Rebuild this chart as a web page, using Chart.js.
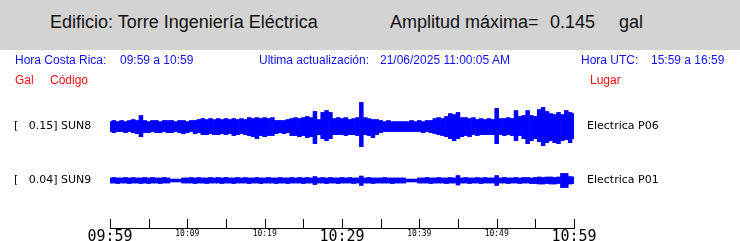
<!DOCTYPE html>
<html>
<head>
<meta charset="utf-8">
<script src="https://cdn.jsdelivr.net/npm/chart.js@4/dist/chart.umd.min.js"></script>
<style>
  html, body { margin: 0; padding: 0; background: #fff; overflow: hidden; width: 740px; height: 241px; }
  #wrap { position: relative; width: 740px; height: 241px; }
  #chart { position: absolute; left: 0; top: 0; }
  .head { position: absolute; left: 0; top: 0; width: 740px; height: 50px; background: #d3d3d3; }
  .t { position: absolute; white-space: pre; line-height: 1; }
  .big { font-family: "Liberation Sans", Arial, sans-serif; font-size: 18px; color: #111; }
  .info { font-family: "Liberation Sans", Arial, sans-serif; font-size: 12px; }
  .blue { color: #1010ff; }
  .red { color: #ff1010; }
  .sta { font-family: "DejaVu Sans", sans-serif; font-size: 11px; color: #000; }
</style>
</head>
<body>
<div id="wrap">
  <canvas id="chart" width="740" height="246"></canvas>
  <div class="head"></div>
  <div class="t big" style="left:50px;top:13px">Edificio: Torre Ingeniería Eléctrica</div>
  <div class="t big" style="left:390px;top:13px">Amplitud máxima=</div>
  <div class="t big" style="left:550px;top:13px">0.145</div>
  <div class="t big" style="left:619px;top:13px">gal</div>

  <div class="t info blue" style="left:15px;top:54px">Hora Costa Rica:</div>
  <div class="t info blue" style="left:120px;top:54px">09:59 a 10:59</div>
  <div class="t info blue" style="left:259px;top:54px">Ultima actualización:</div>
  <div class="t info blue" style="left:380px;top:54px">21/06/2025 11:00:05 AM</div>
  <div class="t info blue" style="left:581px;top:54px">Hora UTC:</div>
  <div class="t info blue" style="left:651px;top:54px">15:59 a 16:59</div>

  <div class="t info red" style="left:15px;top:74px">Gal</div>
  <div class="t info red" style="left:50px;top:74px">Código</div>
  <div class="t info red" style="left:590px;top:74px">Lugar</div>

  <div class="t sta" style="left:14px;top:120px">[   0.15] SUN8</div>
  <div class="t sta" style="left:587px;top:120px">Electrica P06</div>
  <div class="t sta" style="left:14px;top:174px">[   0.04] SUN9</div>
  <div class="t sta" style="left:587px;top:174px">Electrica P01</div>
</div>
<script>
// minutes after 09:59, sampled every half minute
const step = 0.5
const minutes = Array.from({length: 121}, (_, i) => i * step)

const tickLabels = ['09:59', '', '10:09', '', '10:19', '', '10:29', '', '10:39', '', '10:49', '', '10:59']
const majorLabels = ['09:59', '10:29', '10:59']

// SUN8 envelope (gal), max and min in each half minute
const sun8Max = [
  0.031, 0.038, 0.031, 0.038, 0.031, 0.038, 0.044, 0.038, 0.069, 0.038,
  0.031, 0.038, 0.038, 0.031, 0.038, 0.038, 0.038, 0.031, 0.038, 0.038,
  0.031, 0.038, 0.038, 0.044, 0.050, 0.044, 0.050, 0.044, 0.050, 0.044,
  0.050, 0.044, 0.050, 0.044, 0.050, 0.044, 0.056, 0.050, 0.056, 0.050,
  0.056, 0.050, 0.056, 0.038, 0.038, 0.038, 0.044, 0.050, 0.056, 0.050,
  0.056, 0.063, 0.056, 0.094, 0.044, 0.088, 0.100, 0.088, 0.050, 0.056,
  0.050, 0.056, 0.044, 0.050, 0.056, 0.150, 0.056, 0.050, 0.044, 0.044,
  0.038, 0.031, 0.038, 0.031, 0.031, 0.031, 0.031, 0.031, 0.038, 0.031,
  0.038, 0.031, 0.038, 0.038, 0.050, 0.056, 0.050, 0.063, 0.081, 0.075,
  0.088, 0.056, 0.056, 0.050, 0.056, 0.044, 0.050, 0.044, 0.050, 0.044,
  0.113, 0.050, 0.050, 0.056, 0.050, 0.100, 0.063, 0.069, 0.100, 0.069,
  0.063, 0.106, 0.119, 0.094, 0.081, 0.075, 0.088, 0.075, 0.100, 0.088,
  0.081
]
const sun8Min = [
  -0.031, -0.038, -0.031, -0.031, -0.038, -0.031, -0.038, -0.044, -0.063, -0.038,
  -0.038, -0.031, -0.038, -0.038, -0.031, -0.038, -0.038, -0.031, -0.038, -0.044,
  -0.038, -0.031, -0.044, -0.038, -0.050, -0.050, -0.044, -0.050, -0.050, -0.044,
  -0.050, -0.044, -0.056, -0.050, -0.044, -0.050, -0.056, -0.063, -0.075, -0.056,
  -0.063, -0.056, -0.056, -0.044, -0.038, -0.044, -0.038, -0.056, -0.056, -0.063,
  -0.056, -0.069, -0.063, -0.106, -0.050, -0.075, -0.088, -0.075, -0.050, -0.050,
  -0.050, -0.056, -0.050, -0.050, -0.056, -0.125, -0.050, -0.056, -0.069, -0.050,
  -0.038, -0.031, -0.031, -0.031, -0.031, -0.031, -0.031, -0.031, -0.031, -0.031,
  -0.031, -0.038, -0.031, -0.038, -0.044, -0.050, -0.056, -0.063, -0.075, -0.088,
  -0.075, -0.063, -0.056, -0.063, -0.050, -0.056, -0.050, -0.050, -0.050, -0.050,
  -0.106, -0.050, -0.056, -0.050, -0.056, -0.088, -0.056, -0.075, -0.106, -0.088,
  -0.075, -0.094, -0.119, -0.100, -0.088, -0.100, -0.106, -0.088, -0.081, -0.100,
  -0.075
]

// SUN9 envelope (gal)
const sun9Max = [
  0.016, 0.019, 0.016, 0.016, 0.019, 0.016, 0.019, 0.016, 0.016, 0.019,
  0.016, 0.019, 0.016, 0.016, 0.019, 0.016, 0.009, 0.009, 0.009, 0.016,
  0.016, 0.019, 0.016, 0.019, 0.016, 0.016, 0.019, 0.016, 0.019, 0.016,
  0.019, 0.016, 0.016, 0.019, 0.016, 0.019, 0.016, 0.016, 0.019, 0.016,
  0.016, 0.019, 0.016, 0.016, 0.019, 0.016, 0.016, 0.019, 0.016, 0.019,
  0.016, 0.019, 0.016, 0.025, 0.016, 0.019, 0.016, 0.019, 0.016, 0.016,
  0.019, 0.016, 0.019, 0.016, 0.016, 0.028, 0.016, 0.019, 0.016, 0.016,
  0.016, 0.019, 0.016, 0.016, 0.016, 0.016, 0.016, 0.009, 0.009, 0.009,
  0.016, 0.016, 0.019, 0.016, 0.016, 0.019, 0.016, 0.016, 0.019, 0.016,
  0.031, 0.016, 0.019, 0.016, 0.016, 0.019, 0.016, 0.019, 0.016, 0.016,
  0.031, 0.016, 0.019, 0.016, 0.016, 0.019, 0.016, 0.019, 0.019, 0.016,
  0.019, 0.022, 0.019, 0.022, 0.022, 0.019, 0.022, 0.044, 0.044, 0.025,
  0.022
]
const sun9Min = [
  -0.016, -0.016, -0.019, -0.016, -0.016, -0.019, -0.016, -0.016, -0.019, -0.016,
  -0.019, -0.016, -0.016, -0.019, -0.016, -0.016, -0.009, -0.009, -0.009, -0.016,
  -0.016, -0.016, -0.019, -0.016, -0.016, -0.019, -0.016, -0.016, -0.016, -0.019,
  -0.016, -0.016, -0.019, -0.016, -0.016, -0.016, -0.019, -0.016, -0.016, -0.019,
  -0.016, -0.016, -0.016, -0.019, -0.016, -0.016, -0.019, -0.016, -0.016, -0.016,
  -0.019, -0.016, -0.016, -0.025, -0.016, -0.016, -0.019, -0.016, -0.016, -0.019,
  -0.016, -0.016, -0.016, -0.019, -0.016, -0.031, -0.016, -0.016, -0.019, -0.016,
  -0.016, -0.016, -0.016, -0.019, -0.016, -0.016, -0.016, -0.009, -0.009, -0.009,
  -0.016, -0.016, -0.016, -0.019, -0.016, -0.016, -0.016, -0.019, -0.016, -0.016,
  -0.028, -0.016, -0.016, -0.019, -0.016, -0.016, -0.019, -0.016, -0.016, -0.016,
  -0.031, -0.016, -0.016, -0.019, -0.016, -0.016, -0.019, -0.016, -0.016, -0.019,
  -0.019, -0.022, -0.022, -0.019, -0.022, -0.022, -0.019, -0.044, -0.044, -0.022,
  -0.019
]

// baseline of each trace on the shared gal axis
const sun8Base = -0.19
const sun9Base = -0.525

function trace(base, lo, hi) {
  return minutes.map((t, i) => ({x: t, y: [base + lo[i], base + hi[i]]}))
}

// short tick marks pointing up into the plot, like the original
const innerTicks = {
  id: 'innerTicks',
  afterDraw(chart) {
    const sx = chart.scales.x
    const ctx = chart.ctx
    const bottom = chart.chartArea.bottom
    ctx.save()
    ctx.strokeStyle = '#000'
    ctx.lineWidth = 1
    sx.ticks.forEach(t => {
      const px = Math.round(sx.getPixelForValue(t.value)) + 0.5
      ctx.beginPath()
      ctx.moveTo(px, bottom)
      ctx.lineTo(px, bottom - 9)
      ctx.stroke()
    })
    ctx.restore()
  }
}

new Chart(document.getElementById('chart'), {
  type: 'bar',
  data: {
    datasets: [
      {label: 'SUN8', data: trace(sun8Base, sun8Min, sun8Max)},
      {label: 'SUN9', data: trace(sun9Base, sun9Min, sun9Max)}
    ]
  },
  options: {
    responsive: false,
    animation: false,
    devicePixelRatio: 1,
    grouped: false,
    backgroundColor: '#0000ff',
    borderWidth: 0,
    barPercentage: 1,
    categoryPercentage: 1,
    layout: {padding: {left: 110, right: 166, top: 96, bottom: 0}},
    plugins: {legend: {display: false}, tooltip: {enabled: false}},
    scales: {
      x: {
        type: 'linear',
        min: 0,
        max: 60,
        offset: false,
        border: {display: true, color: '#000', width: 1},
        grid: {display: true, drawOnChartArea: false, drawTicks: false},
        ticks: {
          stepSize: 5,
          autoSkip: false,
          maxRotation: 0,
          padding: 0,
          color: '#000',
          callback: (v, i) => tickLabels[i],
          font: c => {
            const lab = c.tick ? tickLabels[c.index] : ''
            return majorLabels.includes(lab)
              ? {family: 'DejaVu Sans Mono', size: 15, lineHeight: 1.2}
              : {family: 'DejaVu Sans Mono', size: 8, lineHeight: 1.6}
          }
        }
      },
      y: {
        display: false,
        min: -0.82,
        max: 0
      }
    }
  },
  plugins: [innerTicks]
})
</script>
</body>
</html>
